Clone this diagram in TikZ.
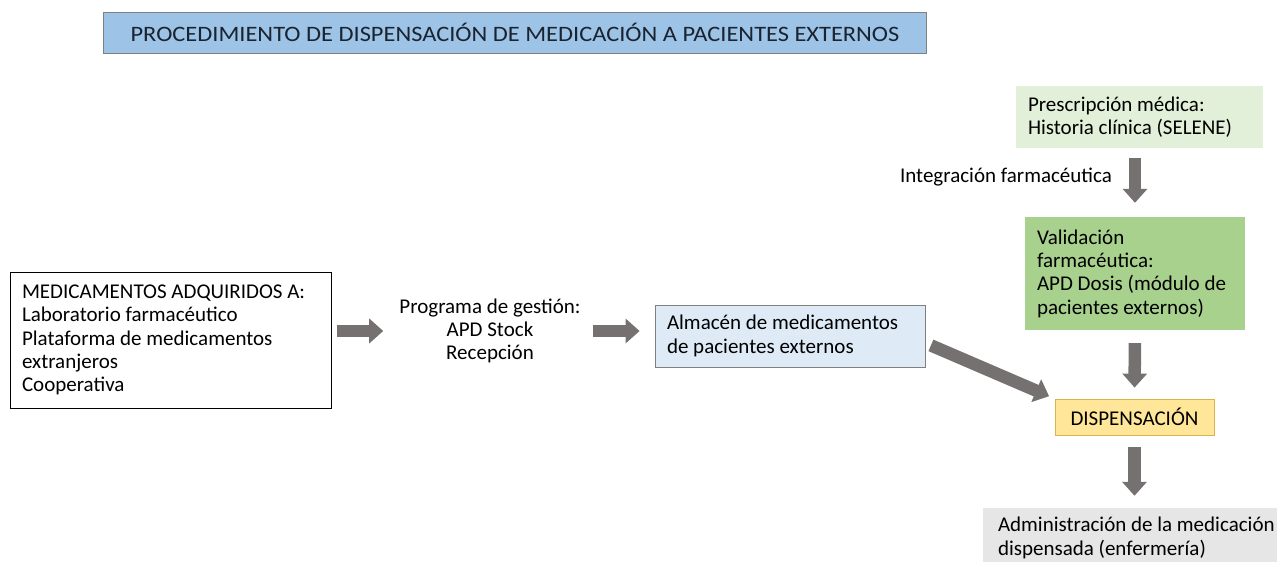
\documentclass[tikz,border=0pt]{standalone}
\usepackage{fontspec}
\setmainfont{Carlito}
\newfontfamily\titlefont[FakeStretch=1.11]{Carlito}
\usetikzlibrary{positioning,arrows.meta}

\definecolor{titleblue}{HTML}{9DC3E6}
\definecolor{titletext}{HTML}{1A2330}
\definecolor{paleblue}{HTML}{DEEBF7}
\definecolor{palegreen}{HTML}{E2F0D9}
\definecolor{midgreen}{HTML}{A9D18E}
\definecolor{paleyellow}{HTML}{FFE699}
\definecolor{goldline}{HTML}{D9B44A}
\definecolor{palegray}{HTML}{E7E6E6}
\definecolor{arrowgray}{HTML}{767171}

\begin{document}
\begin{tikzpicture}[
x=1pt, y=-1pt,
txt/.style={font=\fontsize{21}{23.3}\selectfont, inner sep=0pt},
boxnode/.style={txt, rectangle, align=flush left, inner xsep=12pt},
bigarrow/.style={draw=arrowgray, line width=12.5pt, -{Triangle[length=14pt,width=24pt]}}
]
\useasboundingbox (0,0) rectangle (1277,562);
%Nodes
\node[txt, rectangle, fill=titleblue, draw=gray, thick, minimum width=823pt, minimum height=41pt, text=titletext, font=\titlefont\fontsize{22}{24}\selectfont]
  (titulo) at (515,32.5) {PROCEDIMIENTO DE DISPENSACIÓN DE MEDICACIÓN A PACIENTES EXTERNOS};
\node[boxnode, draw=black, thick, minimum width=321pt, minimum height=136pt, text width=297pt]
  (adquiridos) at (170.5,340) {MEDICAMENTOS ADQUIRIDOS A:\\ Laboratorio farmacéutico\\ Plataforma de medicamentos\\ extranjeros\\ Cooperativa};
\node[txt, align=center] (gestion) at (490,331) {Programa de gestión:\\ APD Stock\\ Recepción};
\node[boxnode, fill=paleblue, draw=gray, thick, minimum width=270pt, minimum height=62pt, text width=246pt]
  (almacen) at (790,336) {Almacén de medicamentos\\ de pacientes externos};
\node[boxnode, fill=palegreen, minimum width=247pt, minimum height=62pt, text width=223pt]
  (prescripcion) at (1139.5,117) {Prescripción médica:\\ Historia clínica (SELENE)};
\node[txt] (integracion) at (1006,177) {Integración farmacéutica};
\node[boxnode, fill=midgreen, minimum width=220pt, minimum height=113pt, text width=196pt]
  (validacion) at (1135,273.5) {Validación\\ farmacéutica:\\ APD Dosis (módulo de\\ pacientes externos)};
\node[txt, rectangle, fill=paleyellow, draw=goldline, thick, minimum width=159pt, minimum height=36pt]
  (dispensacion) at (1134.5,417) {DISPENSACIÓN};
\node[boxnode, fill=palegray, inner xsep=15pt, minimum height=60pt, text width=285pt]
  (administracion) at (1140.5,538) {Administración de la medicación\\ dispensada (enfermería)};
%Lines
\draw[bigarrow, shorten <=6pt, shorten >=16pt] (gestion.west -| adquiridos.east) -- (gestion.west);
\draw[bigarrow, shorten <=12pt, shorten >=15pt] (gestion.east) -- (gestion.east -| almacen.west);
\draw[bigarrow, shorten <=10pt, shorten >=14pt] (prescripcion.south -| validacion) -- (validacion.north);
\draw[bigarrow, shorten <=13pt, shorten >=11pt] (validacion.south) -- (dispensacion.north);
\draw[bigarrow, shorten <=12pt, shorten >=12pt] (dispensacion.south) -- (dispensacion.south |- administracion.north);
\draw[bigarrow, shorten <=6pt, shorten >=6pt] (almacen.east) ++(0,7) -- (dispensacion.north west);
\end{tikzpicture}
\end{document}
